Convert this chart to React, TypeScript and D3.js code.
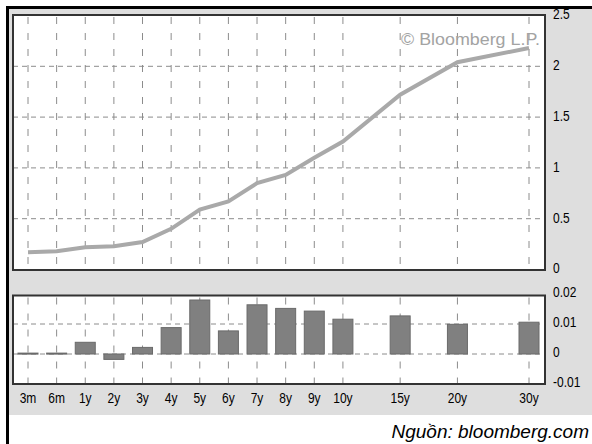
import React from "react";
import * as d3 from "d3";

// tenors on the x axis, with their slot on the (uneven) grid
const tenors = ["3m", "6m", "1y", "2y", "3y", "4y", "5y", "6y", "7y", "8y", "9y", "10y", "15y", "20y", "30y"];
const slots = [0, 1, 2, 3, 4, 5, 6, 7, 8, 9, 10, 11, 13, 15, 17.5];

// yield curve (%) and daily change
const yields = [0.17, 0.18, 0.22, 0.23, 0.27, 0.4, 0.59, 0.67, 0.85, 0.93, 1.1, 1.26, 1.72, 2.04, 2.18];
const changes = [0.0003, 0.0003, 0.0039, -0.0018, 0.0022, 0.0088, 0.018, 0.0077, 0.0164, 0.0152, 0.0143, 0.0116, 0.0127, 0.0099, 0.0106];

const topTicks = [0, 0.5, 1, 1.5, 2, 2.5];
const topTickLabels = ["0", "0.5", "1", "1.5", "2", "2.5"];
const bottomTicks = [-0.01, 0, 0.01, 0.02];
const bottomTickLabels = ["-0.01", "0", "0.01", "0.02"];

const W = 592;
const H = 444;
const plotL = 13;
const plotR = 545;
const top = { y0: 15, y1: 270 };
const bot = { y0: 295.5, y1: 384 };

const sans = "'Liberation Sans', Arial, sans-serif";

// condensed label, like the terminal font
const Narrow = ({ x, y, anchor = "start", children, size = 15, fill = "#000" }) => (
  <text
    transform={`translate(${x},${y}) scale(0.8,1)`}
    textAnchor={anchor}
    dominantBaseline="central"
    fontSize={size}
    fontFamily={sans}
    fill={fill}
  >
    {children}
  </text>
);

export default function App() {
  const x = d3.scaleLinear().domain([0, 17.5]).range([28, 529]);
  const yTop = d3.scaleLinear().domain([0, 2.5]).range([269.5, 15.5]);
  const yBot = d3.scaleLinear().domain([-0.01, 0.02]).range([384, 294]);

  const line = d3
    .line<number>()
    .x((_, i) => x(slots[i]))
    .y((d) => yTop(d));

  const barW = 20;
  const grid = "#8c8c8c";

  return (
    <svg
      width={W}
      height={H}
      style={{ position: "absolute", left: 0, top: 0, display: "block", background: "#fff" }}
    >
      {/* outer panel */}
      <rect x={9} y={9} width={W - 9} height={406} fill="#dedede" />

      {/* top panel */}
      <rect x={plotL} y={top.y0} width={plotR - plotL} height={top.y1 - top.y0} fill="#fff" />
      {topTicks.slice(1, -1).map((t) => (
        <line key={"hg" + t} x1={plotL} x2={plotR} y1={yTop(t)} y2={yTop(t)} stroke={grid} strokeDasharray="5,4" />
      ))}
      {slots.map((s, i) => (
        <line key={"vg" + i} x1={x(s)} x2={x(s)} y1={top.y0 + 2} y2={top.y1} stroke={grid} strokeDasharray="7,9" />
      ))}
      <text
        x={401}
        y={45}
        fontSize={17}
        fontFamily={sans}
        fill="#a3a3a3"
        textLength={139}
        lengthAdjust="spacingAndGlyphs"
      >
        © Bloomberg L.P.
      </text>
      <path d={line(yields) || ""} fill="none" stroke="#a9a9a9" strokeWidth={4} />
      <rect
        x={plotL}
        y={top.y0}
        width={plotR - plotL}
        height={top.y1 - top.y0}
        fill="none"
        stroke="#333"
        strokeWidth={2}
      />
      {topTicks.map((t, i) => (
        <Narrow key={"tl" + t} x={553} y={yTop(t) - 1}>
          {topTickLabels[i]}
        </Narrow>
      ))}

      {/* bottom panel */}
      <rect x={plotL} y={bot.y0} width={plotR - plotL} height={bot.y1 - bot.y0} fill="#fff" />
      {[0, 0.01].map((t) => (
        <line key={"bh" + t} x1={plotL} x2={plotR} y1={yBot(t)} y2={yBot(t)} stroke={grid} strokeDasharray="5,4" />
      ))}
      {slots.map((s, i) => (
        <line key={"bv" + i} x1={x(s)} x2={x(s)} y1={bot.y0 + 2} y2={bot.y1} stroke={grid} strokeDasharray="7,9" />
      ))}
      {changes.map((c, i) => {
        const y0 = yBot(0);
        const y1 = yBot(c);
        return (
          <rect
            key={"b" + i}
            x={x(slots[i]) - barW / 2}
            y={Math.min(y0, y1)}
            width={barW}
            height={Math.max(1, Math.abs(y1 - y0))}
            fill="#808080"
            stroke="#6a6a6a"
            strokeWidth={1}
          />
        );
      })}
      <rect
        x={plotL}
        y={bot.y0}
        width={plotR - plotL}
        height={bot.y1 - bot.y0}
        fill="none"
        stroke="#333"
        strokeWidth={2}
      />
      {bottomTicks.map((t, i) => (
        <Narrow key={"bl" + t} x={553} y={yBot(t) - 2}>
          {bottomTickLabels[i]}
        </Narrow>
      ))}

      {/* x labels */}
      {tenors.map((t, i) => (
        <Narrow key={"xl" + t} x={x(slots[i])} y={398} anchor="middle">
          {t}
        </Narrow>
      ))}

      {/* outer border drawn last so it clips the 2.5 label like the original */}
      <line x1={7.5} x2={7.5} y1={6} y2={H} stroke="#000" strokeWidth={3} />
      <line x1={6} x2={W} y1={7.5} y2={7.5} stroke="#000" strokeWidth={3} />

      <text
        x={589}
        y={438}
        textAnchor="end"
        fontSize={19}
        fontStyle="italic"
        fontFamily={sans}
        fill="#000"
      >
        Nguồn: bloomberg.com
      </text>
    </svg>
  );
}
